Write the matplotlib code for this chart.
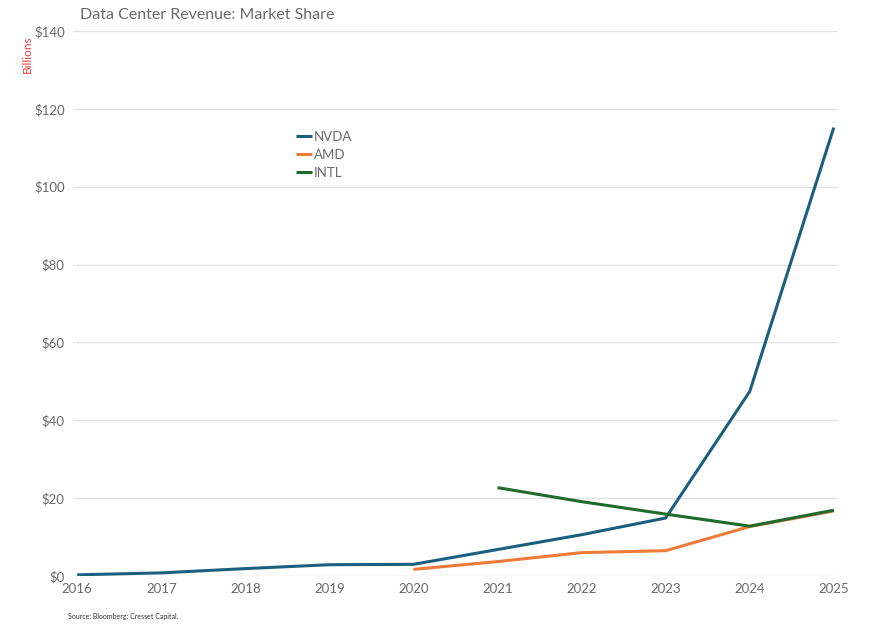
import matplotlib
matplotlib.use('Agg')
import matplotlib.pyplot as plt
import numpy as np

plt.rcParams['font.family'] = ['Lato', 'DejaVu Sans']

# Data (billions USD)
years = [2016, 2017, 2018, 2019, 2020, 2021, 2022, 2023, 2024, 2025]
nvda = [0.3, 0.8, 1.9, 2.9, 3.0, 6.8, 10.6, 14.9, 47.4, 115.2]
amd_years = [2020, 2021, 2022, 2023, 2024, 2025]
amd = [1.7, 3.7, 6.0, 6.5, 12.7, 16.7]
intl_years = [2021, 2022, 2023, 2024, 2025]
intl = [22.7, 19.1, 15.9, 12.8, 16.9]

y_ticks = [0, 20, 40, 60, 80, 100, 120, 140]
y_labels = ['$%d' % v for v in y_ticks]

GRAY = '#6a6a6a'

fig = plt.figure(figsize=(8.86, 6.43), dpi=100)
ax = fig.add_axes([0.0824, 0.1042, 0.8634, 0.8476])

ax.plot(years, nvda, color='#1b5f80', lw=2.2, label='NVDA', solid_capstyle='butt')
ax.plot(amd_years, amd, color='#f07a38', lw=2.2, label='AMD', solid_capstyle='butt')
ax.plot(intl_years, intl, color='#1f6b2b', lw=2.2, label='INTL', solid_capstyle='butt')

ax.set_xlim(2015.95, 2025.05)
ax.set_ylim(0, 140)
ax.set_xticks(years)
ax.set_xticklabels([str(y) for y in years])
ax.set_yticks(y_ticks)
ax.set_yticklabels(y_labels)
ax.tick_params(axis='both', length=0, colors=GRAY, labelsize=9.5)
ax.tick_params(axis='y', pad=6)
ax.tick_params(axis='x', pad=5)
ax.grid(axis='y', color='#e2e2e2', lw=1)
ax.set_axisbelow(True)
for s in ax.spines.values():
    s.set_visible(False)

fig.text(0.0903, 0.977, 'Data Center Revenue: Market Share', fontsize=11.5,
         color=GRAY, ha='left', va='center')
fig.text(0.0305, 0.915, 'Billions', fontsize=8.5, color='#ec3b3b', rotation=90,
         ha='center', va='center')
fig.text(0.077, 0.041, 'Source: Bloomberg; Cresset Capital.', fontsize=5,
         color='#333333', ha='left', va='center')

leg = ax.legend(loc='upper left', bbox_to_anchor=(0.328, 0.805),
                bbox_transform=fig.transFigure, frameon=False, fontsize=9.5,
                handlelength=1.2, handletextpad=0.15, labelspacing=0.45,
                borderaxespad=0)
for t in leg.get_texts():
    t.set_color(GRAY)

fig.savefig('out.png', dpi=100)
